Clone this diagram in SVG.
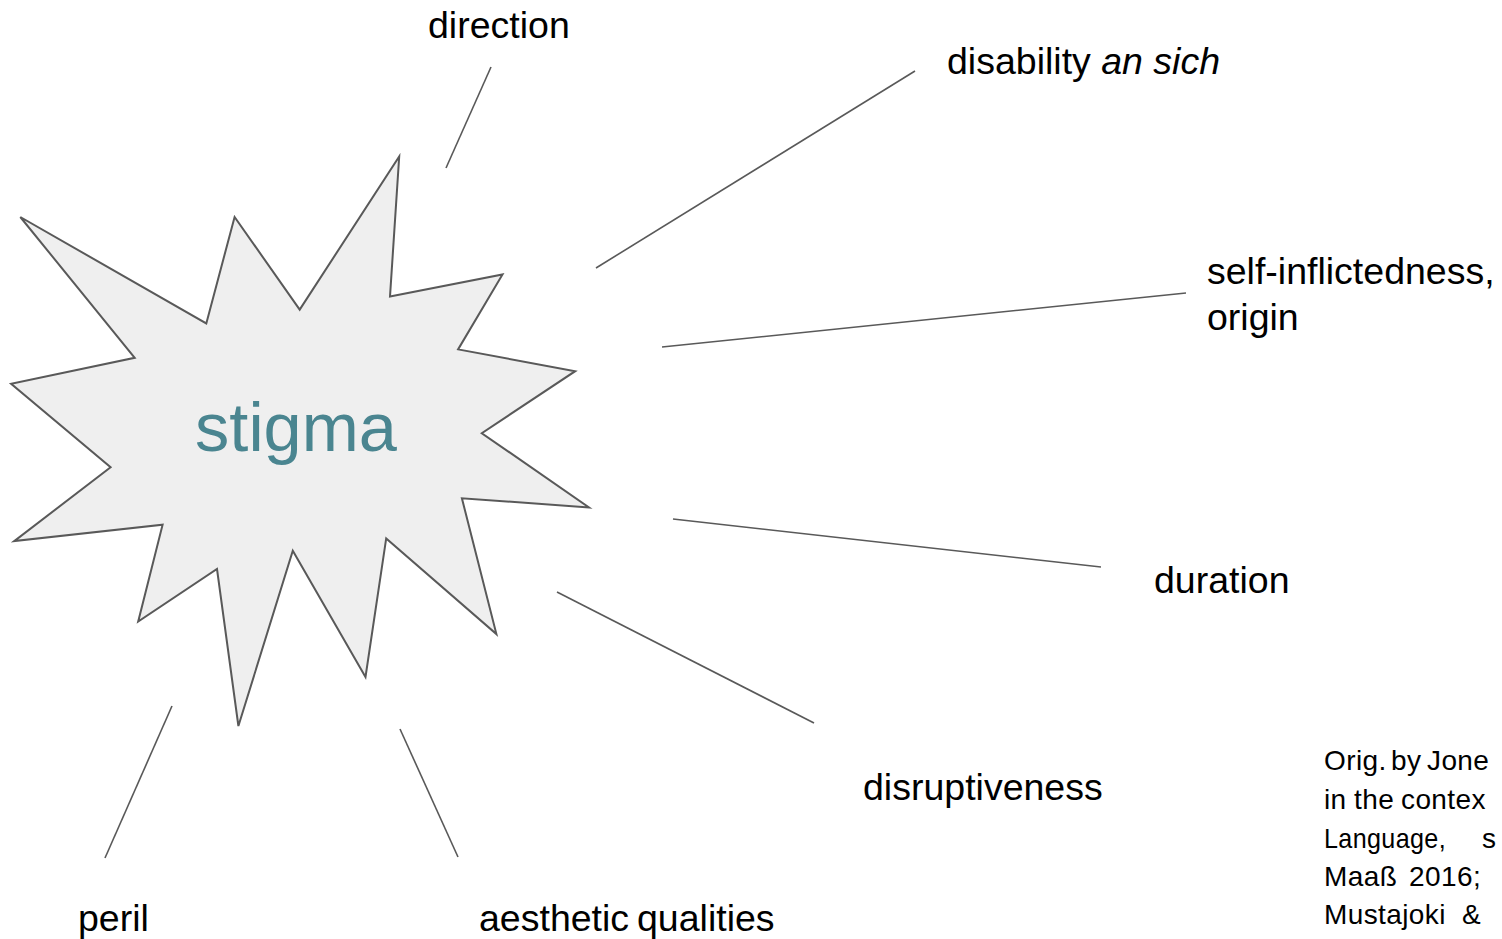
<svg xmlns="http://www.w3.org/2000/svg" width="1502" height="939" viewBox="0 0 1502 939">
<style>
.lbl{font-family:"Liberation Sans",Arial,sans-serif;font-size:37.5px;fill:#000}
.note{font-family:"Liberation Sans",Arial,sans-serif;font-size:28px;letter-spacing:0.4px;fill:#000}
.con{stroke:#595959;stroke-width:1.6;fill:none}
</style>
<rect width="1502" height="939" fill="#fff"/>
<g id="stigma">
<polygon points="20.3,217 206.3,323.4 234.6,217 299.7,309.6 399.2,156.5 390,296.6 502.5,274.4 458.1,349.4 575.2,371.2 481.8,433.2 589,507.4 461.9,498.3 496.4,634.1 386.2,538.4 365.5,677 292.8,550.7 238.4,726 217,569 138.2,621.5 162.6,524.7 14.2,541.1 110.6,467.3 11.1,383.8 134.7,357.8" fill="#efefef" stroke="#595959" stroke-width="2" stroke-linejoin="miter"/>
<text x="296" y="451" text-anchor="middle" font-family="Liberation Sans,Arial,sans-serif" font-size="68.5" fill="#4a8590">stigma</text>
</g>
<g id="connectors">
<line class="con" x1="491" y1="67" x2="446" y2="168"/>
<line class="con" x1="915" y1="71" x2="596" y2="268"/>
<line class="con" x1="1186" y1="293" x2="662" y2="347"/>
<line class="con" x1="673" y1="519" x2="1101" y2="567"/>
<line class="con" x1="557" y1="592" x2="814" y2="723"/>
<line class="con" x1="400" y1="729" x2="458" y2="857"/>
<line class="con" x1="172" y1="706" x2="105" y2="858"/>
</g>
<g id="direction"><text class="lbl" x="428" y="38">direction</text></g>
<g id="disability"><text class="lbl" x="947" y="74">disability <tspan font-style="italic">an sich</tspan></text></g>
<g id="self-inflictedness"><text class="lbl" x="1207" y="284">self-inflictedness,</text><text class="lbl" x="1207" y="330">origin</text></g>
<g id="duration"><text class="lbl" x="1154" y="593">duration</text></g>
<g id="disruptiveness"><text class="lbl" x="863" y="800">disruptiveness</text></g>
<g id="aesthetic"><text class="lbl" x="479" y="931">aesthetic<tspan x="637">qualities</tspan></text></g>
<g id="peril"><text class="lbl" x="78" y="931">peril</text></g>
<g id="note">
<text class="note" x="1324" y="770">Orig.<tspan x="1391">by</tspan><tspan x="1427">Jone</tspan></text>
<text class="note" x="1324" y="809">in<tspan x="1354">the</tspan><tspan x="1401">contex</tspan></text>
<text class="note" x="1324" y="848" textLength="122" lengthAdjust="spacingAndGlyphs">Language,</text>
<text class="note" x="1482" y="848">s</text>
<text class="note" x="1324" y="886">Maaß<tspan x="1409">2016;</tspan></text>
<text class="note" x="1324" y="924">Mustajoki<tspan x="1462">&amp;</tspan></text>
</g>
</svg>
